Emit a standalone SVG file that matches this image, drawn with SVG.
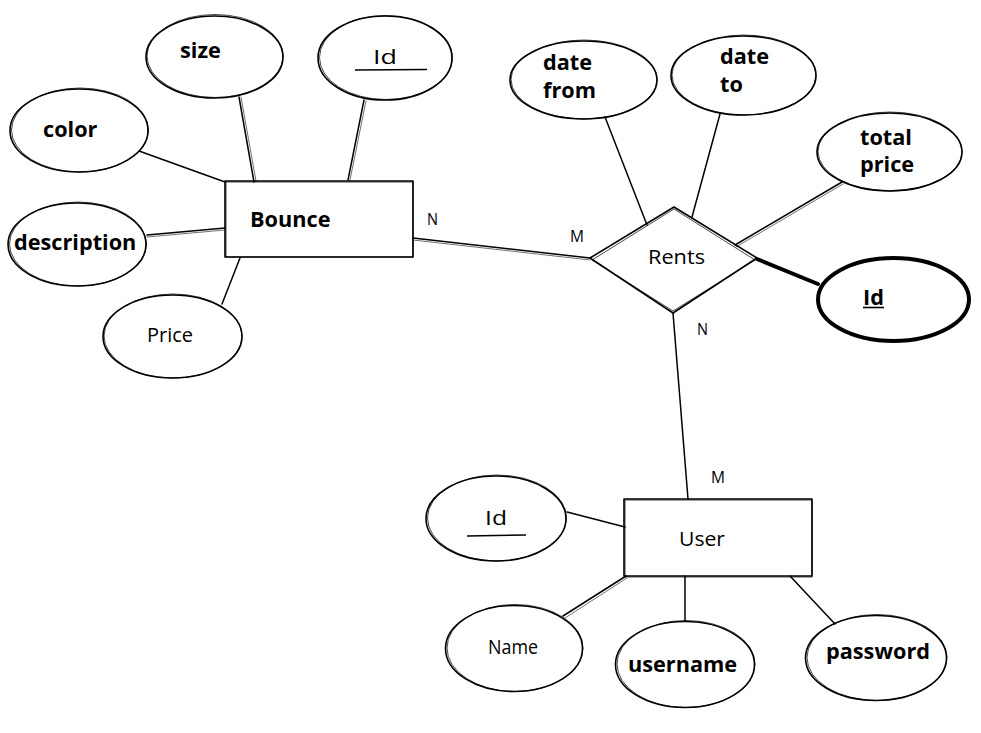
<svg xmlns="http://www.w3.org/2000/svg" width="981" height="733" viewBox="0 0 981 733">
  <style>
    .bg { fill: #ffffff; }
    .shape { fill: none; stroke: #000; stroke-width: 1.6; stroke-linejoin: round; }
    .shape2 { fill: none; stroke: #000; stroke-width: 0.9; opacity: 0.8; }
    .edge { fill: none; stroke: #000; stroke-width: 1.5; stroke-linecap: round; }
    .edge2 { fill: none; stroke: #000; stroke-width: 0.8; opacity: 0.7; stroke-linecap: round; }
    .key { fill: none; stroke: #000; stroke-width: 4; stroke-linecap: round; }
    .bold { font-family: "Open Sans", "Noto Sans", "DejaVu Sans", sans-serif; font-weight: 700; font-size: 21.7px; fill: #000; }
    .hand { font-family: "Open Sans", "DejaVu Sans", sans-serif; font-weight: 400; font-size: 20px; fill: #000; }
    .card { font-family: "Open Sans", "DejaVu Sans", sans-serif; font-size: 17px; fill: #000; }
    .ul { stroke: #000; stroke-width: 1.6; }
  </style>

  <rect class="bg" x="0" y="0" width="981" height="733"/>

  <!-- relationship lines -->
  <g id="connectors">
    <!-- Bounce attributes -->
    <path class="edge" d="M139,151 L225,182"/>
    <path class="edge" d="M239,97 L254,182"/>
    <path class="edge2" d="M241,97 L256,181"/>
    <path class="edge" d="M364,100 L348,180"/>
    <path class="edge2" d="M366,101 L350,180"/>
    <path class="edge" d="M147,235 L225,228"/>
    <path class="edge2" d="M147,237 L225,230"/>
    <path class="edge" d="M222,304 L240,258"/>
    <!-- Bounce - Rents -->
    <path class="edge" d="M413,238 L590,258"/>
    <path class="edge2" d="M413,240 L590,260"/>
    <!-- Rents attributes -->
    <path class="edge" d="M605,117 L647,225"/>
    <path class="edge" d="M720,114 L692,217"/>
    <path class="edge" d="M842,182 L735,245"/>
    <path class="edge2" d="M843,184 L736,247"/>
    <path class="key" d="M757,259 L818,284"/>
    <!-- Rents - User -->
    <path class="edge" d="M673,313 L688,499"/>
    <!-- User attributes -->
    <path class="edge" d="M567,512 L625,527"/>
    <path class="edge" d="M563,616 L626,576"/>
    <path class="edge2" d="M565,618 L627,578"/>
    <path class="edge" d="M685,576 L685,621"/>
    <path class="edge" d="M790,576 L835,624"/>
    <!-- cardinalities -->
    <text class="card" x="427" y="225" textLength="11" lengthAdjust="spacingAndGlyphs">N</text>
    <text class="card" x="570" y="242" textLength="14" lengthAdjust="spacingAndGlyphs">M</text>
    <text class="card" x="697" y="335" textLength="11" lengthAdjust="spacingAndGlyphs">N</text>
    <text class="card" x="711" y="483" textLength="14" lengthAdjust="spacingAndGlyphs">M</text>
  </g>

  <!-- Bounce entity -->
  <g id="bounce">
    <rect class="shape" x="225" y="181" width="188" height="76"/>
    <rect class="shape2" x="226" y="182" width="187" height="75"/>
    <text class="bold" x="250" y="227">Bounce</text>
  </g>

  <g id="bounce-size">
    <ellipse class="shape" cx="214.5" cy="57" rx="68.5" ry="41"/>
    <ellipse class="shape2" cx="215" cy="56" rx="68" ry="41.5"/>
    <text class="bold" x="180" y="58">size</text>
  </g>

  <g id="bounce-id">
    <ellipse class="shape" cx="385" cy="58" rx="67" ry="42"/>
    <ellipse class="shape2" cx="386" cy="57.5" rx="66.5" ry="42"/>
    <text class="hand" x="373" y="64" textLength="24" lengthAdjust="spacingAndGlyphs">Id</text>
    <line class="ul" x1="355" y1="70" x2="427" y2="69.5"/>
  </g>

  <g id="bounce-color">
    <ellipse class="shape" cx="79" cy="130.5" rx="69" ry="41.5"/>
    <ellipse class="shape2" cx="80" cy="130" rx="68.5" ry="42"/>
    <text class="bold" x="43" y="137">color</text>
  </g>

  <g id="bounce-description">
    <ellipse class="shape" cx="77" cy="244.5" rx="69" ry="41.5"/>
    <ellipse class="shape2" cx="78" cy="244" rx="68.5" ry="42"/>
    <text class="bold" x="14" y="250">description</text>
  </g>

  <g id="bounce-price">
    <ellipse class="shape" cx="172.5" cy="336.5" rx="69.5" ry="41.5"/>
    <ellipse class="shape2" cx="173" cy="336" rx="69" ry="42"/>
    <text class="hand" x="147" y="342" textLength="46" lengthAdjust="spacingAndGlyphs">Price</text>
  </g>

  <!-- Rents relationship -->
  <g id="rents">
    <path class="shape" d="M590,258 L674,207 L757,258 L673,313 Z"/>
    <path class="shape2" d="M592,260 L674,209 L755,260 L673,311 Z"/>
    <text class="hand" x="648" y="264" textLength="57" lengthAdjust="spacingAndGlyphs">Rents</text>
  </g>

  <g id="rents-date-from">
    <ellipse class="shape" cx="583.5" cy="80" rx="73.5" ry="39"/>
    <ellipse class="shape2" cx="584" cy="79.5" rx="73" ry="39.5"/>
    <text class="bold" x="543" y="70">date</text>
    <text class="bold" x="543" y="98">from</text>
  </g>

  <g id="rents-date-to">
    <ellipse class="shape" cx="743.5" cy="75.5" rx="72.5" ry="39.5"/>
    <ellipse class="shape2" cx="744" cy="75" rx="72" ry="40"/>
    <text class="bold" x="720" y="64">date</text>
    <text class="bold" x="720" y="92">to</text>
  </g>

  <g id="rents-total-price">
    <ellipse class="shape" cx="889.5" cy="152" rx="72.5" ry="39"/>
    <ellipse class="shape2" cx="890" cy="151.5" rx="72" ry="39.5"/>
    <text class="bold" x="860" y="145">total</text>
    <text class="bold" x="860" y="172">price</text>
  </g>

  <g id="rents-id">
    <ellipse cx="893.5" cy="299.5" rx="75.5" ry="41.5" fill="none" stroke="#000" stroke-width="4"/>
    <text class="bold" x="863" y="305">Id</text>
    <line class="ul" x1="863" y1="307.5" x2="884" y2="307.5"/>
  </g>

  <!-- User entity -->
  <g id="user">
    <rect class="shape" x="624" y="499" width="188" height="77"/>
    <rect class="shape2" x="625" y="500" width="187" height="77"/>
    <text class="hand" x="679" y="546" textLength="46" lengthAdjust="spacingAndGlyphs">User</text>
  </g>

  <g id="user-id">
    <ellipse class="shape" cx="496" cy="518.5" rx="70" ry="42.5"/>
    <ellipse class="shape2" cx="497" cy="518" rx="69.5" ry="43"/>
    <text class="hand" x="485" y="525" textLength="22" lengthAdjust="spacingAndGlyphs">Id</text>
    <line class="ul" x1="467" y1="536" x2="526" y2="535"/>
  </g>

  <g id="user-name">
    <ellipse class="shape" cx="514" cy="648.5" rx="68.5" ry="43"/>
    <ellipse class="shape2" cx="515" cy="648" rx="68" ry="43.5"/>
    <text class="hand" x="488" y="654" textLength="50" lengthAdjust="spacingAndGlyphs">Name</text>
  </g>

  <g id="user-username">
    <ellipse class="shape" cx="685" cy="664.5" rx="69.5" ry="43"/>
    <ellipse class="shape2" cx="686" cy="664" rx="69" ry="43.5"/>
    <text class="bold" x="628" y="672">username</text>
  </g>

  <g id="user-password">
    <ellipse class="shape" cx="876" cy="658" rx="70.5" ry="42.5"/>
    <ellipse class="shape2" cx="877" cy="657.5" rx="70" ry="43"/>
    <text class="bold" x="826" y="659">password</text>
  </g>
</svg>
